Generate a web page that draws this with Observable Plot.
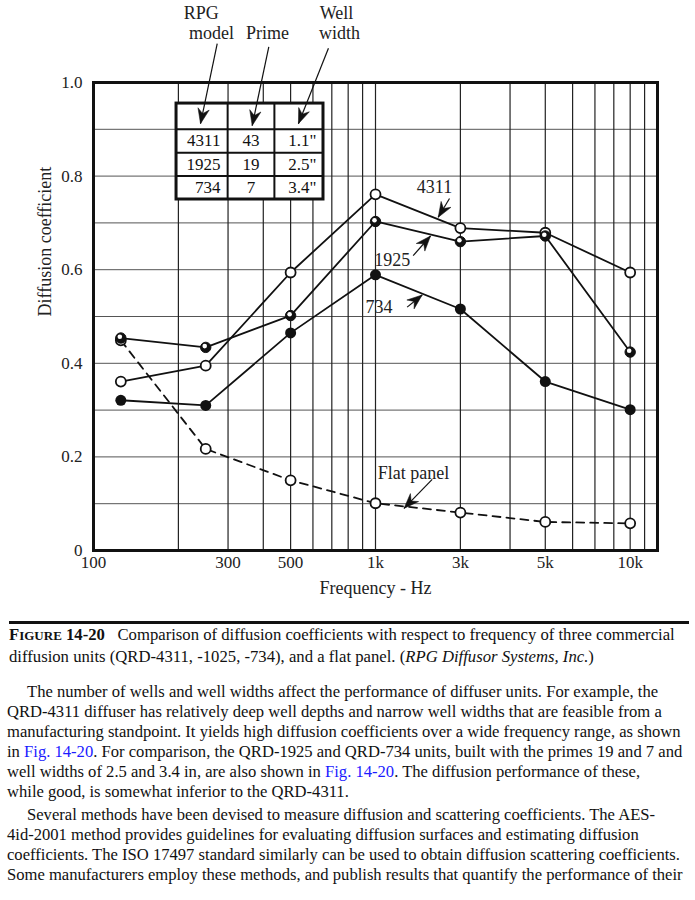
<!DOCTYPE html>
<html><head><meta charset="utf-8">
<script src="https://cdn.jsdelivr.net/npm/d3@7"></script>
<script src="https://cdn.jsdelivr.net/npm/@observablehq/plot@0.6"></script>
<style>
body{margin:0;background:#fff;width:695px;font-family:"Liberation Serif",serif;color:#111;}
#chart svg{display:block;}
.cap{margin:9px 6px 0 9px;border-top:3px solid #111;padding-top:1px;font-size:16.7px;line-height:20.5px;}
.cap div,.txt div{white-space:nowrap;}
.txt{margin:15px 0 0 7px;font-size:16.6px;line-height:19.9px;}
.ind{padding-left:20px;}
.blue{color:#1b1bff;}
.p2{margin-top:4px;}
</style></head><body>
<div id="chart"></div>
<div class="cap">
<div><b><span style="font-size:16.7px">F</span><span style="font-size:13px">IGURE</span> 14-20</b>&nbsp;&nbsp; Comparison of diffusion coefficients with respect to frequency of three commercial</div>
<div>diffusion units (QRD-4311, -1025, -734), and a flat panel. (<i>RPG Diffusor Systems, Inc.</i>)</div>
</div>
<div class="txt">
<div class="ind">The number of wells and well widths affect the performance of diffuser units. For example, the</div>
<div>QRD-4311 diffuser has relatively deep well depths and narrow well widths that are feasible from a</div>
<div>manufacturing standpoint. It yields high diffusion coefficients over a wide frequency range, as shown</div>
<div>in <span class="blue">Fig. 14-20</span>. For comparison, the QRD-1925 and QRD-734 units, built with the primes 19 and 7 and</div>
<div>well widths of 2.5 and 3.4 in, are also shown in <span class="blue">Fig. 14-20</span>. The diffusion performance of these,</div>
<div>while good, is somewhat inferior to the QRD-4311.</div>
<div class="ind p2">Several methods have been devised to measure diffusion and scattering coefficients. The AES-</div>
<div>4id-2001 method provides guidelines for evaluating diffusion surfaces and estimating diffusion</div>
<div>coefficients. The ISO 17497 standard similarly can be used to obtain diffusion scattering coefficients.</div>
<div>Some manufacturers employ these methods, and publish results that quantify the performance of their</div>
</div>
<script>
// ---- data ----
const freqs = [125, 250, 500, 1000, 2000, 4000, 8000];
const qrd4311 = [0.361, 0.395, 0.594, 0.761, 0.689, 0.679, 0.594];
const qrd1925 = [0.454, 0.434, 0.502, 0.703, 0.660, 0.672, 0.424];
const qrd734 = [0.321, 0.310, 0.465, 0.589, 0.516, 0.361, 0.301];
const flatPanel = [0.449, 0.217, 0.150, 0.101, 0.081, 0.061, 0.058];
const xTickValues = [100, 300, 500, 1000, 2000, 4000, 8000];
const xTickLabels = ["100", "300", "500", "1k", "3k", "5k", "10k"];
const yTickValues = [0, 0.2, 0.4, 0.6, 0.8, 1.0];
const yTickLabels = ["0", "0.2", "0.4", "0.6", "0.8", "1.0"];
const xGrid = [200, 300, 400, 500, 600, 700, 800, 900, 1000, 2000, 3000, 4000, 5000, 6000, 7000, 8000, 9000];
const yGrid = [0.1, 0.2, 0.3, 0.4, 0.5, 0.6, 0.7, 0.8, 0.9];
const tableHeaders = ["RPG", "model", "Prime", "Well", "width"];
const tableModels = ["4311", "1925", "734"];
const tablePrimes = ["43", "19", "7"];
const tableWidths = ['1.1"', '2.5"', '3.4"'];
const seriesNames = ["4311", "1925", "734", "Flat panel"];

// ---- annotation layout (data coordinates) ----
const tableCols = [197, 299, 438, 654];
const tableRows = [0.955, 0.9, 0.85, 0.8, 0.75];
const headerPos = [[241, 1.147], [262, 1.105], [414, 1.105], [727, 1.147], [745, 1.105]];
const labelPos = [[1619, 0.776], [1146, 0.620], [1029, 0.519], [1364, 0.165]];
const arrowPos = [
  [274.6, 1.083, 239.6, 0.912],
  [418.4, 1.076, 365.4, 0.908],
  [681, 1.073, 533, 0.912],
  [1830, 0.752, 1669, 0.712],
  [1360, 0.630, 1567, 0.672],
  [1295, 0.520, 1464, 0.546],
  [1589, 0.152, 1262, 0.090]
];

const W = 695, H = 612;
const mL = 93, mR = 38, mT = 82, mB = 62;
const xCfg = {type: "log", domain: [100, 10000], range: [mL, W - mR]};
const yCfg = {type: "linear", domain: [0, 1], range: [H - mB, mT]};
const sx = Plot.scale({x: xCfg}), sy = Plot.scale({y: yCfg});

const rows = [];
[qrd4311, qrd1925, qrd734, flatPanel].forEach((vals, s) =>
  vals.forEach((v, i) => rows.push({series: seriesNames[s], f: freqs[i], v})));
const of = name => rows.filter(d => d.series === name);

const arrows = arrowPos.map(([x1, y1, x2, y2]) => {
  const dx = sx.apply(x2) - sx.apply(x1), dy = sy.apply(y2) - sy.apply(y1);
  return {x1, y1, x2, y2, angle: Math.atan2(dx, -dy) * 180 / Math.PI};
});
const barb = {
  draw(ctx, size) {
    const L = Math.sqrt(size) * 1.7;
    ctx.moveTo(0, 0);
    ctx.lineTo(L * 0.38, L);
    ctx.lineTo(0, L * 0.68);
    ctx.lineTo(-L * 0.38, L);
    ctx.closePath();
  }
};

const rowMid = i => (tableRows[i + 1] + tableRows[i + 2]) / 2;
const font = "Liberation Serif";
const chart = Plot.plot({
  width: W, height: H,
  marginLeft: mL, marginRight: mR, marginTop: mT, marginBottom: mB,
  style: {fontFamily: font, fontSize: "16px", color: "#111", background: "white"},
  x: {...xCfg, axis: null},
  y: {...yCfg, axis: null},
  marks: [
    Plot.ruleY(yGrid, {stroke: "#555", strokeWidth: 1}),
    Plot.ruleX(xGrid, {stroke: "#222", strokeWidth: 1.2}),
    // inset table
    Plot.rect([0], {x1: () => tableCols[0], x2: () => tableCols[3], y1: () => tableRows[4], y2: () => tableRows[0], fill: "white"}),
    Plot.ruleX(tableCols.slice(1, 3), {y1: tableRows[4], y2: tableRows[0], stroke: "#111", strokeWidth: 2}),
    Plot.ruleY(tableRows.slice(1, 4), {x1: tableCols[0], x2: tableCols[3], stroke: "#111", strokeWidth: 2}),
    Plot.rect([0], {x1: () => tableCols[0], x2: () => tableCols[3], y1: () => tableRows[4], y2: () => tableRows[0], fill: "none", stroke: "#111", strokeWidth: 3}),
    Plot.text(tableModels, {x: () => 282, y: (d, i) => rowMid(i), text: d => d, textAnchor: "end", fontSize: 17, fill: "#111"}),
    Plot.text(tablePrimes, {x: () => 362, y: (d, i) => rowMid(i), text: d => d, textAnchor: "middle", fontSize: 17, fill: "#111"}),
    Plot.text(tableWidths, {x: () => 618, y: (d, i) => rowMid(i), text: d => d, textAnchor: "end", fontSize: 17, fill: "#111"}),
    Plot.text(tableHeaders, {x: (d, i) => headerPos[i][0], y: (d, i) => headerPos[i][1], text: d => d, fontSize: 18, fill: "#222"}),
    // series
    Plot.line(of("4311"), {x: "f", y: "v", stroke: "#111", strokeWidth: 1.8}),
    Plot.line(of("1925"), {x: "f", y: "v", stroke: "#111", strokeWidth: 1.8}),
    Plot.line(of("734"), {x: "f", y: "v", stroke: "#111", strokeWidth: 1.8}),
    Plot.line(of("Flat panel"), {x: "f", y: "v", stroke: "#111", strokeWidth: 1.8, strokeDasharray: "8,6"}),
    Plot.dot(of("Flat panel"), {x: "f", y: "v", r: 5, fill: "white", stroke: "#111", strokeWidth: 1.8}),
    Plot.dot(of("4311"), {x: "f", y: "v", r: 5, fill: "white", stroke: "#111", strokeWidth: 1.8}),
    Plot.dot(of("1925"), {x: "f", y: "v", r: 5.2, fill: "#111", stroke: "#111", strokeWidth: 1}),
    Plot.dot(of("1925"), {x: "f", y: "v", r: 2.3, dx: -1, dy: -1.3, fill: "white"}),
    Plot.dot(of("734"), {x: "f", y: "v", r: 5.5, fill: "#111"}),
    // annotations
    Plot.text(seriesNames, {x: (d, i) => labelPos[i][0], y: (d, i) => labelPos[i][1], text: d => d, fontSize: 18, fill: "#222"}),
    Plot.link(arrows, {x1: "x1", y1: "y1", x2: "x2", y2: "y2", stroke: "#111", strokeWidth: 1.2}),
    Plot.dot(arrows, {x: "x2", y: "y2", symbol: barb, r: 5, rotate: "angle", fill: "#111", stroke: "#111", strokeWidth: 0.5}),
    // tick labels
    Plot.text(xTickValues, {x: d => d, frameAnchor: "bottom", dy: 17, text: (d, i) => xTickLabels[i], fontSize: 17, fill: "#222"}),
    Plot.text(yTickValues, {y: d => d, frameAnchor: "left", dx: -11, textAnchor: "end", text: (d, i) => yTickLabels[i], fontSize: 17, fill: "#222"}),
    // axis titles
    Plot.text(["Frequency - Hz"], {frameAnchor: "bottom", dy: 43, fontSize: 18, fill: "#222"}),
    Plot.text(["Diffusion coefficient"], {frameAnchor: "left", dx: -48, rotate: -90, fontSize: 18, fill: "#222"}),
    Plot.frame({stroke: "#111", strokeWidth: 3})
  ]
});
document.getElementById("chart").append(chart);
</script>
</body></html>
